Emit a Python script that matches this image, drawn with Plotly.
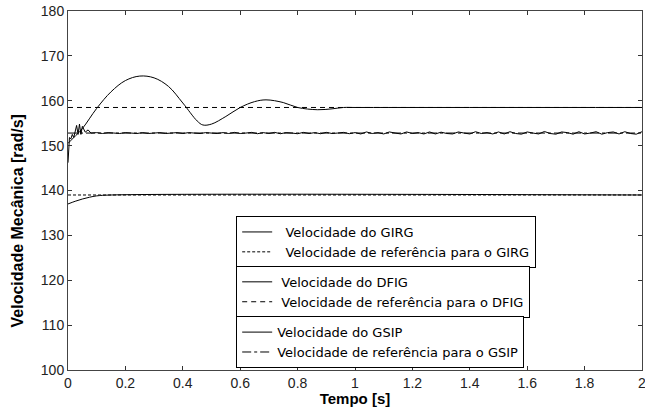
import plotly.graph_objects as go

# ---- data ----
girg_t = [0.0, 0.025, 0.05, 0.075, 0.10, 0.15, 2.0]
girg_v = [137.0, 137.6, 138.1, 138.5, 138.8, 139.0, 139.0]
girg_ref = 139.0

dfig_t = [0.0, 0.02, 0.05, 0.10, 0.15, 0.20, 0.25, 0.30, 0.35, 0.40, 0.45, 0.47,
          0.50, 0.55, 0.60, 0.65, 0.69, 0.75, 0.80, 0.87, 0.92, 0.96, 1.00, 1.2,
          1.4, 1.6, 1.8, 2.0]
dfig_v = [150.5, 151.8, 153.8, 158.3, 162.0, 164.5, 165.5, 165.1, 163.2, 159.5, 155.5, 154.6,
          154.8, 156.5, 158.5, 159.8, 160.2, 159.6, 158.5, 158.0, 158.2, 158.5, 158.5, 158.5,
          158.5, 158.5, 158.5, 158.5]
dfig_ref = 158.5

gsip_t0 = [0.0, 0.002, 0.005, 0.01, 0.015, 0.02, 0.025, 0.03, 0.035, 0.04, 0.045,
           0.05, 0.06, 0.07, 0.08, 0.09]
gsip_v0 = [146.2, 150.5, 151.8, 151.5, 152.5, 151.8, 153.2, 154.5, 152.5, 154.8, 152.5,
           154.3, 153.0, 153.5, 152.8, 152.9]
gsip_v1 = [152.9, 152.7, 152.9, 152.8, 152.7, 152.9, 152.8, 152.7, 152.9, 152.7, 152.8,
           152.9, 152.7, 152.8, 152.9, 152.7, 152.9, 152.8, 152.7, 152.9, 152.8,
           152.7, 152.9, 152.7, 152.95, 152.7, 152.8, 152.95, 152.65, 152.9, 152.7, 152.95,
           152.65, 152.9, 152.8, 152.65, 152.95, 152.7, 152.9, 152.65, 152.95, 152.7, 152.8,
           152.95, 152.65, 152.9,
           152.6, 153.05, 152.7, 152.9, 152.6, 153.05, 152.8, 152.6, 153.05, 152.7, 152.9,
           152.6, 153.05, 152.6, 153.0, 152.7, 152.6, 153.05, 152.8, 152.6, 153.1, 152.7,
           152.9, 152.6, 153.05,
           152.6, 153.1, 152.7, 152.55, 153.05, 152.8, 152.6, 153.15, 152.7, 152.55, 153.05,
           152.9, 152.55, 153.1, 152.6, 152.8, 153.1, 152.55, 152.9, 153.05, 152.6, 153.1,
           152.7, 152.55, 153.1]
gsip_ref = 152.8

gsip_t = gsip_t0 + [round(0.10 + 0.02 * i, 2) for i in range(len(gsip_v1))]
gsip_v = gsip_v0 + gsip_v1

x_ticks = [0, 0.2, 0.4, 0.6, 0.8, 1, 1.2, 1.4, 1.6, 1.8, 2]
x_labels = ["0", "0.2", "0.4", "0.6", "0.8", "1", "1.2", "1.4", "1.6", "1.8", "2"]
y_ticks = [100, 110, 120, 130, 140, 150, 160, 170, 180]

FONT = "Liberation Sans, Arial, sans-serif"
NARROW = "Liberation Sans Narrow, Arial Narrow, Liberation Sans, sans-serif"
LEGFONT = dict(family="DejaVu Sans, sans-serif", size=13, color="black")

fig = go.Figure()

# GIRG
fig.add_trace(go.Scatter(x=[0, 2], y=[girg_ref, girg_ref], mode="lines",
                         line=dict(color="black", width=1, dash="3px,2px"),
                         name="  Velocidade de referência para o GIRG", legend="legend",
                         legendrank=2))
fig.add_trace(go.Scatter(x=girg_t, y=girg_v, mode="lines",
                         line=dict(color="black", width=1, shape="spline"),
                         name="  Velocidade do GIRG", legend="legend", legendrank=1))
# DFIG
fig.add_trace(go.Scatter(x=[0, 2], y=[dfig_ref, dfig_ref], mode="lines",
                         line=dict(color="black", width=1, dash="5px,4px"),
                         name=" Velocidade de referência para o DFIG", legend="legend2",
                         legendrank=2))
fig.add_trace(go.Scatter(x=dfig_t, y=dfig_v, mode="lines",
                         line=dict(color="black", width=1, shape="spline"),
                         name=" Velocidade do DFIG", legend="legend2", legendrank=1))
# GSIP
fig.add_trace(go.Scatter(x=[0, 2], y=[gsip_ref, gsip_ref], mode="lines",
                         line=dict(color="black", width=1, dash="dashdot"),
                         name="Velocidade de referência para o GSIP", legend="legend3",
                         legendrank=2))
fig.add_trace(go.Scatter(x=gsip_t, y=gsip_v, mode="lines",
                         line=dict(color="black", width=1),
                         name="Velocidade do GSIP", legend="legend3", legendrank=1))

leg_common = dict(bgcolor="white", bordercolor="black", borderwidth=1,
                  font=LEGFONT, xanchor="left", yanchor="top",
                  tracegroupgap=0, itemwidth=30)

fig.update_layout(
    width=645, height=407,
    margin=dict(l=67.5, r=2.5, t=11, b=37, autoexpand=False),
    paper_bgcolor="white", plot_bgcolor="white",
    font=dict(family=FONT, size=13, color="black"),
    legend=dict(x=0.293, y=0.429, **leg_common),
    legend2=dict(x=0.293, y=0.290, **leg_common),
    legend3=dict(x=0.293, y=0.150, **leg_common),
    xaxis=dict(range=[0, 2], tickvals=x_ticks, ticktext=x_labels,
               ticks="inside", ticklen=4, tickcolor="#333", automargin=False,
               showline=True, mirror="ticks", linecolor="#444", linewidth=1,
               showgrid=False, zeroline=False, ticklabeloverflow="allow",
               tickfont=dict(family=FONT, size=14, color="#222"),
               title=dict(text="<b>Tempo [s]</b>", standoff=0,
                          font=dict(family=FONT, size=15, color="black"))),
    yaxis=dict(range=[100, 180], tickvals=y_ticks, automargin=False,
               ticks="inside", ticklen=4, tickcolor="#333",
               showline=True, mirror="ticks", linecolor="#444", linewidth=1,
               showgrid=False, zeroline=False, ticklabeloverflow="allow",
               tickfont=dict(family=FONT, size=14, color="#222")),
    annotations=[dict(text="<b>Velocidade Mecânica [rad/s]</b>", textangle=-90,
                      xref="paper", yref="paper", x=-0.088, y=0.415,
                      xanchor="center", yanchor="middle", showarrow=False,
                      font=dict(family=NARROW, size=16, color="black"))],
)

fig.write_html("out.html", config={"displayModeBar": False},
               post_script="document.body.style.margin='0';document.body.style.padding='0';")
